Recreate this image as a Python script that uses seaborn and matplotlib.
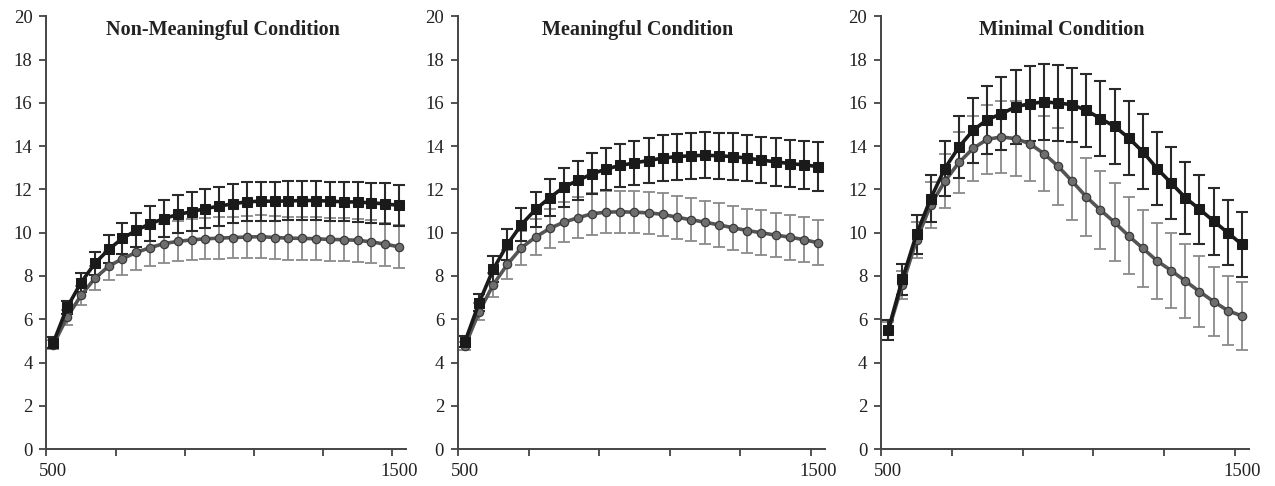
import matplotlib
matplotlib.use("Agg")
import matplotlib.pyplot as plt
import numpy as np
import pandas as pd
import seaborn as sns

# x categories (ms)
x_vals = [500, 540, 580, 620, 660, 700, 740, 780, 820, 860, 900, 940, 980,
          1020, 1060, 1100, 1140, 1180, 1220, 1260, 1300, 1340, 1380, 1420, 1460, 1500]

titles = ["Non-Meaningful Condition", "Meaningful Condition", "Minimal Condition"]

# black squares series
sq_nonmeaningful = [4.92, 6.55, 7.69, 8.58, 9.23, 9.74, 10.11, 10.42, 10.65, 10.85, 10.97, 11.12, 11.23,
                    11.34, 11.43, 11.46, 11.46, 11.47, 11.49, 11.49, 11.46, 11.43, 11.42, 11.38, 11.34, 11.26]
sq_nonmeaningful_err = [0.25, 0.3, 0.45, 0.55, 0.65, 0.72, 0.78, 0.82, 0.85, 0.88, 0.9, 0.9, 0.9,
                        0.9, 0.9, 0.9, 0.9, 0.9, 0.9, 0.9, 0.9, 0.9, 0.92, 0.93, 0.95, 0.95]
sq_meaningful = [4.97, 6.77, 8.31, 9.46, 10.38, 11.08, 11.62, 12.11, 12.42, 12.72, 12.95, 13.11, 13.23,
                 13.34, 13.45, 13.52, 13.56, 13.58, 13.56, 13.52, 13.45, 13.36, 13.28, 13.2, 13.14, 13.06]
sq_meaningful_err = [0.25, 0.41, 0.6, 0.72, 0.78, 0.82, 0.86, 0.9, 0.92, 0.95, 0.97, 1.0, 1.02,
                     1.04, 1.05, 1.06, 1.06, 1.06, 1.06, 1.07, 1.08, 1.08, 1.1, 1.1, 1.12, 1.13]
sq_minimal = [5.5, 7.85, 9.94, 11.58, 12.97, 13.97, 14.74, 15.23, 15.5, 15.82, 15.97, 16.05, 16.0,
              15.92, 15.66, 15.28, 14.92, 14.38, 13.74, 12.97, 12.3, 11.62, 11.09, 10.54, 10.0, 9.46]
sq_minimal_err = [0.45, 0.72, 0.9, 1.1, 1.25, 1.45, 1.5, 1.57, 1.68, 1.72, 1.75, 1.76, 1.77,
                  1.72, 1.7, 1.75, 1.72, 1.72, 1.73, 1.71, 1.67, 1.66, 1.6, 1.55, 1.5, 1.5]

# grey circles series
circ_nonmeaningful = [4.82, 6.1, 7.1, 7.89, 8.45, 8.8, 9.09, 9.31, 9.5, 9.6, 9.67, 9.72, 9.75,
                      9.78, 9.8, 9.82, 9.78, 9.75, 9.74, 9.72, 9.69, 9.68, 9.65, 9.58, 9.47, 9.35]
circ_nonmeaningful_err = [0.2, 0.35, 0.45, 0.55, 0.65, 0.75, 0.8, 0.85, 0.9, 0.92, 0.95, 0.95, 0.97,
                          0.97, 0.98, 0.98, 1.0, 1.0, 1.0, 1.0, 1.0, 1.0, 1.0, 1.0, 1.0, 1.0]
circ_meaningful = [4.77, 6.35, 7.6, 8.54, 9.31, 9.8, 10.2, 10.49, 10.69, 10.88, 10.95, 10.97, 10.95,
                   10.92, 10.85, 10.72, 10.6, 10.49, 10.36, 10.23, 10.1, 10.0, 9.89, 9.8, 9.68, 9.54]
circ_meaningful_err = [0.2, 0.4, 0.55, 0.68, 0.78, 0.85, 0.9, 0.93, 0.95, 0.97, 0.97, 0.98, 0.98,
                       0.98, 0.98, 1.0, 1.0, 1.0, 1.0, 1.02, 1.02, 1.03, 1.03, 1.04, 1.05, 1.05]
circ_minimal = [5.45, 7.6, 9.66, 11.28, 12.38, 13.25, 13.9, 14.32, 14.43, 14.35, 14.12, 13.66, 13.08,
                12.38, 11.66, 11.05, 10.48, 9.85, 9.28, 8.7, 8.25, 7.77, 7.28, 6.82, 6.4, 6.15]
circ_minimal_err = [0.4, 0.65, 0.85, 1.05, 1.25, 1.4, 1.5, 1.6, 1.68, 1.72, 1.75, 1.75, 1.78,
                    1.8, 1.8, 1.8, 1.8, 1.78, 1.78, 1.75, 1.72, 1.7, 1.65, 1.6, 1.58, 1.55]

squares = [(sq_nonmeaningful, sq_nonmeaningful_err),
           (sq_meaningful, sq_meaningful_err),
           (sq_minimal, sq_minimal_err)]
circles = [(circ_nonmeaningful, circ_nonmeaningful_err),
           (circ_meaningful, circ_meaningful_err),
           (circ_minimal, circ_minimal_err)]

sns.set_style("white")
plt.rcParams['font.family'] = ['Liberation Serif', 'DejaVu Serif']

fig = plt.figure(figsize=(12.75, 4.86), dpi=100)
axes_rects = [[0.0364, 0.0761, 0.282, 0.890],
              [0.3592, 0.0761, 0.2878, 0.890],
              [0.6911, 0.0761, 0.2885, 0.890]]

SQ_COLOR = "#1a1a1a"
CI_LINE = "#555555"
CI_FILL = "#6e6e6e"
CI_ERR = "#8a8a8a"

for rect, title, (sq, sq_err), (ci, ci_err) in zip(axes_rects, titles, squares, circles):
    ax = fig.add_axes(rect)
    df = pd.DataFrame({"x": x_vals, "sq": sq, "ci": ci})

    ax.errorbar(x_vals, ci, yerr=ci_err, fmt="none", ecolor=CI_ERR, elinewidth=1.3,
                capsize=4, capthick=1.3, zorder=1)
    ax.errorbar(x_vals, sq, yerr=sq_err, fmt="none", ecolor="#2a2a2a", elinewidth=1.5,
                capsize=4, capthick=1.5, zorder=2)
    sns.lineplot(data=df, x="x", y="ci", ax=ax, color=CI_LINE, linewidth=2.6,
                 marker="o", markersize=6, markerfacecolor=CI_FILL,
                 markeredgecolor="#3a3a3a", markeredgewidth=0.9, zorder=3)
    sns.lineplot(data=df, x="x", y="sq", ax=ax, color=SQ_COLOR, linewidth=2.6,
                 marker="s", markersize=6.5, markerfacecolor=SQ_COLOR,
                 markeredgecolor=SQ_COLOR, zorder=4)

    ax.set_xlim(480, 1520)
    ax.set_ylim(0, 20)
    ax.set_yticks(np.arange(0, 21, 2))
    ax.set_xticks([500, 1500])
    ax.set_xticklabels(["500", "1500"])
    ax.set_xticks([480, 680, 880, 1080, 1280, 1480], minor=True)
    ax.tick_params(axis="x", which="major", length=0, pad=10, labelsize=13.5, colors="#222222")
    ax.tick_params(axis="x", which="minor", length=5, width=1.3, color="#444444", bottom=True)
    ax.tick_params(axis="y", which="major", length=5, width=1.3, color="#444444",
                   left=True, pad=5, labelsize=13.5, labelcolor="#222222")
    ax.set_xlabel("")
    ax.set_ylabel("")
    for side in ["top", "right"]:
        ax.spines[side].set_visible(False)
    for side in ["left", "bottom"]:
        ax.spines[side].set_color("#444444")
        ax.spines[side].set_linewidth(1.4)
    ax.text(0.49, 0.992, title, transform=ax.transAxes, ha="center", va="top",
            fontsize=14.5, fontweight="bold", color="#222222")

fig.savefig("out.png", dpi=100)
